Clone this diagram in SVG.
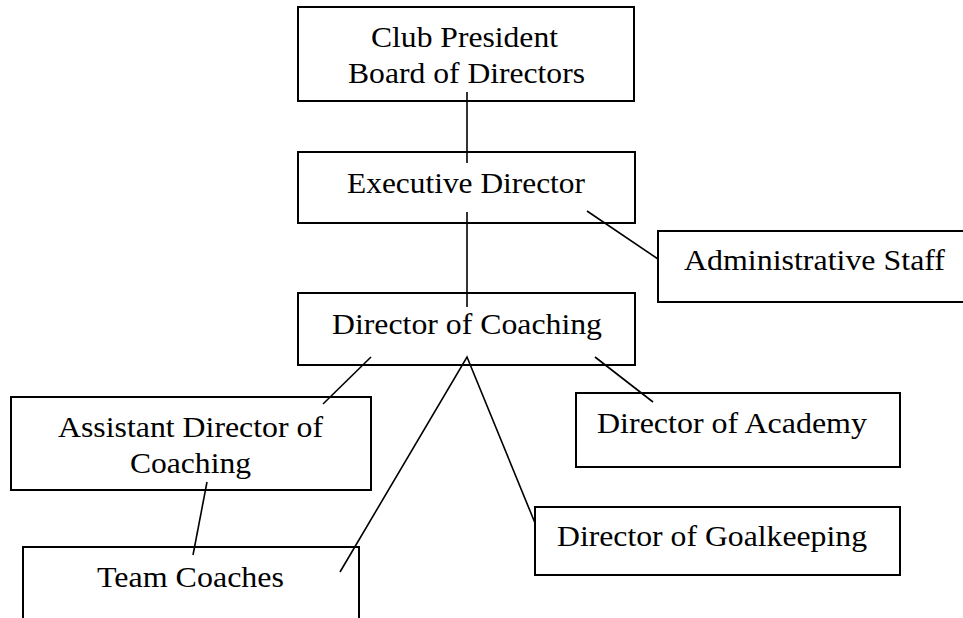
<svg xmlns="http://www.w3.org/2000/svg" width="963" height="618" viewBox="0 0 963 618">
<style>
.box{fill:#fff;stroke:#000;stroke-width:2}
.t{font-family:"Liberation Serif","Times New Roman",serif;font-size:29px;fill:#000}
.c{stroke:#000;stroke-width:1.6;fill:none}
</style>
<rect width="963" height="618" fill="#fff"/>
<g id="club"><rect class="box" x="298" y="7" width="336" height="94"/>
<text class="t" x="371" y="47" textLength="187" lengthAdjust="spacingAndGlyphs">Club President</text>
<text class="t" x="348" y="83" textLength="237" lengthAdjust="spacingAndGlyphs">Board of Directors</text></g>
<g id="exec"><rect class="box" x="298" y="152" width="337" height="71"/>
<text class="t" x="347" y="193" textLength="238" lengthAdjust="spacingAndGlyphs">Executive Director</text></g>
<g id="admin"><rect class="box" x="658" y="231" width="320" height="71"/>
<text class="t" x="684" y="270" textLength="261" lengthAdjust="spacingAndGlyphs">Administrative Staff</text></g>
<g id="doc"><rect class="box" x="298" y="293" width="337" height="72"/>
<text class="t" x="332" y="334" textLength="270" lengthAdjust="spacingAndGlyphs">Director of Coaching</text></g>
<g id="asst"><rect class="box" x="11" y="397" width="360" height="93"/>
<text class="t" x="58" y="437" textLength="265" lengthAdjust="spacingAndGlyphs">Assistant Director of</text>
<text class="t" x="130" y="473" textLength="121" lengthAdjust="spacingAndGlyphs">Coaching</text></g>
<g id="academy"><rect class="box" x="576" y="393" width="324" height="74"/>
<text class="t" x="597" y="433" textLength="270" lengthAdjust="spacingAndGlyphs">Director of Academy</text></g>
<g id="gk"><rect class="box" x="535" y="507" width="365" height="68"/>
<text class="t" x="557" y="546" textLength="310" lengthAdjust="spacingAndGlyphs">Director of Goalkeeping</text></g>
<g id="team"><rect class="box" x="23" y="547" width="336" height="90"/>
<text class="t" x="97" y="587" textLength="187" lengthAdjust="spacingAndGlyphs">Team Coaches</text></g>
<g id="connectors">
<line class="c" x1="467" y1="92" x2="467" y2="163"/>
<line class="c" x1="467" y1="212" x2="467" y2="307"/>
<line class="c" x1="587" y1="211" x2="658" y2="259"/>
<line class="c" x1="371" y1="357" x2="323" y2="404"/>
<line class="c" x1="207" y1="482" x2="193" y2="555"/>
<polyline class="c" points="340,572 467,357 535,523"/>
<line class="c" x1="595" y1="357" x2="653" y2="402"/>
</g>
</svg>
